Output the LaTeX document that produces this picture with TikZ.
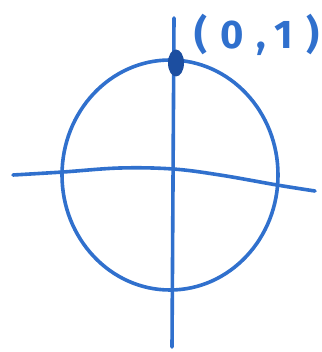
\documentclass[tikz,border=0pt]{standalone}
\usepackage{fontspec}
\usetikzlibrary{shapes.geometric}
\newfontfamily\handfont[LetterSpace=32]{Fira Sans}
\definecolor{pen}{RGB}{48,112,205}
\definecolor{dotc}{RGB}{28,78,160}
\begin{document}
\begin{tikzpicture}[x=1pt,y=-1pt,
  ink/.style={draw=pen,line width=3.6pt,line cap=round,line join=round},
  lbl/.style={text=pen,font=\handfont\bfseries\fontsize{40}{44}\selectfont,inner sep=0pt}]
\useasboundingbox (0,0) rectangle (321,352);
% circle
\draw[ink] (170,175) ellipse [x radius=108, y radius=115];
% axes
\draw[ink] plot[smooth,tension=0.6] coordinates{(13,175) (63,172) (120,168) (173,169) (220,175) (277,185) (315,191)};
\coordinate (vtop) at (174,18);
\coordinate (vbot) at (172,347);
\draw[ink] (vtop) -- (vbot);
% point
\node[fill=dotc,ellipse,minimum width=16pt,minimum height=27pt,inner sep=0pt] (pt) at (176,63) {};
\node[lbl] (lab) at (257,35) {(0,1)};
\end{tikzpicture}
\end{document}
